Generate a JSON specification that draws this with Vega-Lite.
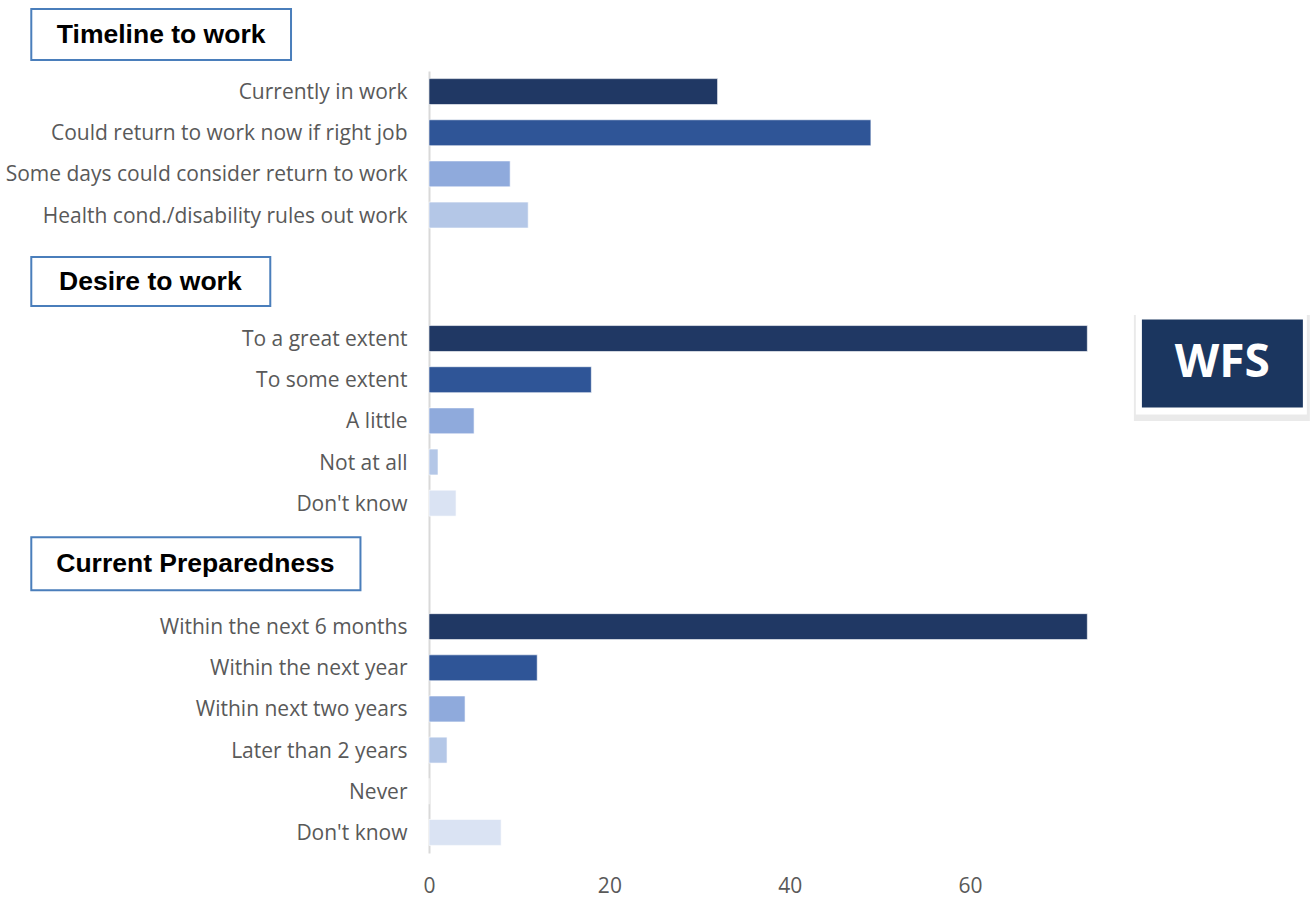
{
  "$schema": "https://vega.github.io/schema/vega-lite/v6.json",
  "autosize": "none",
  "width": 882,
  "height": 782,
  "padding": {"left": 429, "top": 71, "right": 0, "bottom": 44},
  "background": "white",
  "config": {"view": {"stroke": null}},
  "layer": [
    {
      "data": {
        "values": [
          {"item": "Currently in work", "value": 32, "level": 1},
          {"item": "Could return to work now if right job", "value": 49, "level": 2},
          {"item": "Some days could consider return to work", "value": 9, "level": 3},
          {"item": "Health cond./disability rules out work", "value": 11, "level": 4},
          {"item": "To a great extent", "value": 73, "level": 1},
          {"item": "To some extent", "value": 18, "level": 2},
          {"item": "A little", "value": 5, "level": 3},
          {"item": "Not at all", "value": 1, "level": 4},
          {"item": "Don't know", "value": 3, "level": 5},
          {"item": "Within the next 6 months", "value": 73, "level": 1},
          {"item": "Within the next year", "value": 12, "level": 2},
          {"item": "Within next two years", "value": 4, "level": 3},
          {"item": "Later than 2 years", "value": 2, "level": 4},
          {"item": "Never", "value": 0, "level": 5},
          {"item": "Don't know|2", "value": 8, "level": 6}
        ]
      },
      "mark": {"type": "bar", "stroke": "white", "strokeWidth": 0.6},
      "encoding": {
        "y": {
          "field": "item",
          "type": "nominal",
          "sort": null,
          "title": null,
          "scale": {
            "domain": ["Currently in work", "Could return to work now if right job", "Some days could consider return to work", "Health cond./disability rules out work", "gap1", "gap2", "To a great extent", "To some extent", "A little", "Not at all", "Don't know", "gap3", "gap4", "Within the next 6 months", "Within the next year", "Within next two years", "Later than 2 years", "Never", "Don't know|2"],
            "paddingInner": 0.37,
            "paddingOuter": 0.185
          },
          "axis": {
            "labelExpr": "indexof(datum.value,'gap')===0 ? '' : split(datum.value,'|')[0]",
            "ticks": false,
            "domainColor": "#D9D9D9",
            "domainWidth": 2,
            "labelFont": "Open Sans",
            "labelFontSize": 21,
            "labelColor": "#595959",
            "labelPadding": 22,
            "labelOffset": 1.5,
            "labelLimit": 0
          }
        },
        "x": {
          "field": "value",
          "type": "quantitative",
          "title": null,
          "scale": {"domain": [0, 97.8], "nice": false, "zero": true},
          "axis": {
            "values": [0, 20, 40, 60],
            "domain": false,
            "ticks": false,
            "grid": false,
            "labelFlush": false,
            "labelFont": "Open Sans",
            "labelFontSize": 21,
            "labelColor": "#595959",
            "labelPadding": 22
          }
        },
        "color": {
          "field": "level",
          "type": "ordinal",
          "legend": null,
          "scale": {"domain": [1, 2, 3, 4, 5, 6], "range": ["#203864", "#2F5597", "#8FAADC", "#B4C7E7", "#DAE3F3", "#DAE3F3"]}
        }
      }
    },
    {
      "data": {"values": [{"t": "Timeline to work", "row": "Currently in work"}]},
      "mark": {"type": "bar", "height": 51, "yOffset": -57, "fill": "white", "stroke": "#4A7EBB", "strokeWidth": 2},
      "encoding": {"y": {"field": "row", "type": "nominal"}, "x": {"datum": -44.1}, "x2": {"datum": -15.3}}
    },
    {
      "data": {"values": [{"t": "Timeline to work", "row": "Currently in work"}]},
      "mark": {"type": "text", "font": "Liberation Sans", "fontWeight": "bold", "fontSize": 26.5, "color": "black", "align": "center", "baseline": "middle", "dy": -57},
      "encoding": {"y": {"field": "row", "type": "nominal"}, "x": {"datum": -29.7}, "text": {"field": "t"}}
    },
    {
      "data": {"values": [{"t": "Desire to work", "row": "To a great extent"}]},
      "mark": {"type": "bar", "height": 49, "yOffset": -57, "fill": "white", "stroke": "#4A7EBB", "strokeWidth": 2},
      "encoding": {"y": {"field": "row", "type": "nominal"}, "x": {"datum": -44.1}, "x2": {"datum": -17.6}}
    },
    {
      "data": {"values": [{"t": "Desire to work", "row": "To a great extent"}]},
      "mark": {"type": "text", "font": "Liberation Sans", "fontWeight": "bold", "fontSize": 26.5, "color": "black", "align": "center", "baseline": "middle", "dy": -57},
      "encoding": {"y": {"field": "row", "type": "nominal"}, "x": {"datum": -30.9}, "text": {"field": "t"}}
    },
    {
      "data": {"values": [{"t": "Current Preparedness", "row": "Within the next 6 months"}]},
      "mark": {"type": "bar", "height": 53, "yOffset": -63, "fill": "white", "stroke": "#4A7EBB", "strokeWidth": 2},
      "encoding": {"y": {"field": "row", "type": "nominal"}, "x": {"datum": -44.1}, "x2": {"datum": -7.6}}
    },
    {
      "data": {"values": [{"t": "Current Preparedness", "row": "Within the next 6 months"}]},
      "mark": {"type": "text", "font": "Liberation Sans", "fontWeight": "bold", "fontSize": 26.5, "color": "black", "align": "center", "baseline": "middle", "dy": -63},
      "encoding": {"y": {"field": "row", "type": "nominal"}, "x": {"datum": -25.9}, "text": {"field": "t"}}
    },
    {
      "data": {"values": [{"t": "WFS", "row": "To some extent"}]},
      "mark": {"type": "bar", "height": 106, "yOffset": -11.7, "fill": "#DCDCDC", "opacity": 0.6},
      "encoding": {"y": {"field": "row", "type": "nominal"}, "x": {"datum": 78.16}, "x2": {"datum": 97.67}}
    },
    {
      "data": {"values": [{"t": "WFS", "row": "To some extent"}]},
      "mark": {"type": "bar", "height": 102, "yOffset": -16.2, "fill": "white"},
      "encoding": {"y": {"field": "row", "type": "nominal"}, "x": {"datum": 78.38}, "x2": {"datum": 97.34}}
    },
    {
      "data": {"values": [{"t": "WFS", "row": "To some extent"}]},
      "mark": {"type": "bar", "height": 88, "yOffset": -16.2, "fill": "#1B365F"},
      "encoding": {"y": {"field": "row", "type": "nominal"}, "x": {"datum": 79.05}, "x2": {"datum": 96.9}}
    },
    {
      "data": {"values": [{"t": "WFS", "row": "To some extent"}]},
      "mark": {"type": "text", "font": "Open Sans", "fontWeight": "bold", "fontSize": 46, "color": "white", "align": "center", "baseline": "middle", "dy": -16.2},
      "encoding": {"y": {"field": "row", "type": "nominal"}, "x": {"datum": 87.97}, "text": {"field": "t"}}
    }
  ]
}
